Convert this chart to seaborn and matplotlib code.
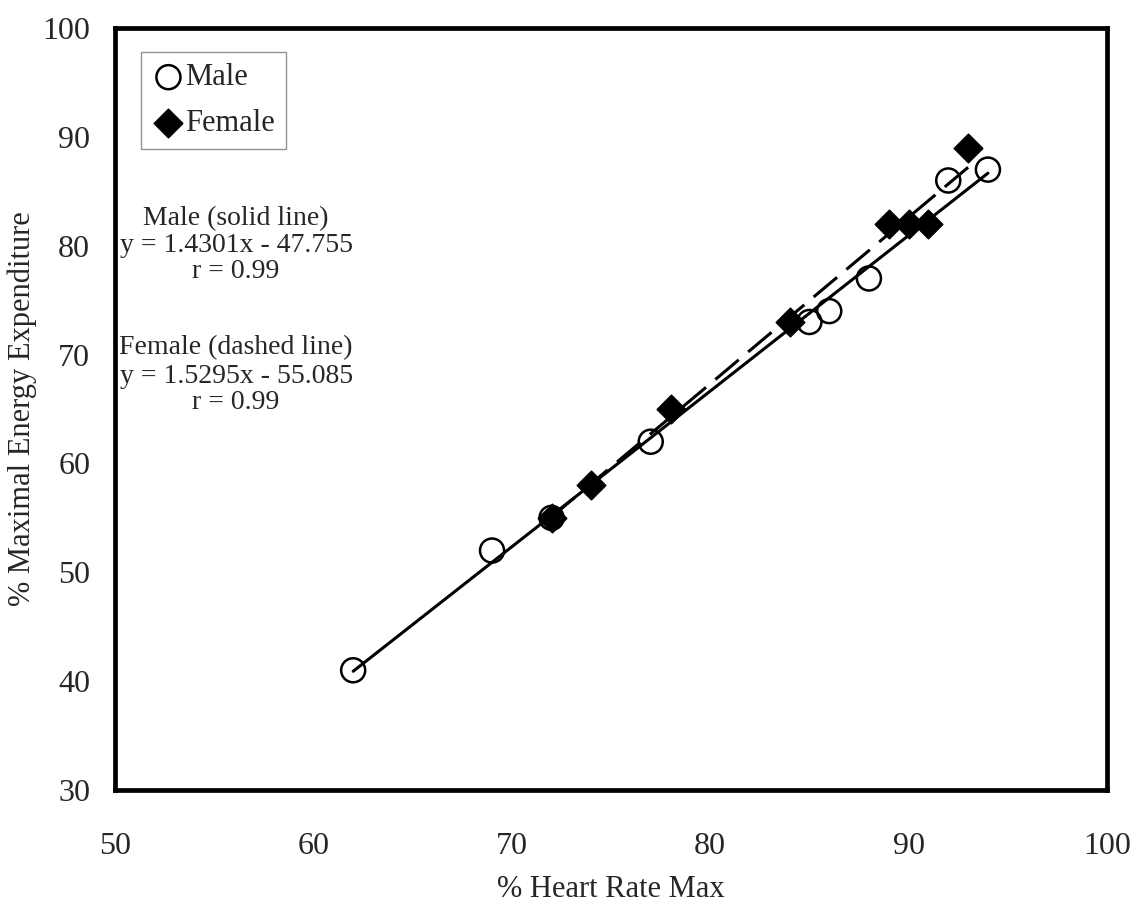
import matplotlib
matplotlib.use('Agg')
import matplotlib.pyplot as plt
import seaborn as sns
import pandas as pd

# values
male_hr = [62, 69, 72, 77, 85, 86, 88, 92, 94]
male_ee = [41, 52, 55, 62, 73, 74, 77, 86, 87]
female_hr = [72, 74, 78, 84, 89, 90, 91, 93]
female_ee = [55, 58, 65, 73, 82, 82, 82, 89]

male_df = pd.DataFrame({"hr": male_hr, "ee": male_ee})
female_df = pd.DataFrame({"hr": female_hr, "ee": female_ee})

x_ticks = [50, 60, 70, 80, 90, 100]
y_ticks = [30, 40, 50, 60, 70, 80, 90, 100]

sns.set_style("white")
plt.rcParams['font.family'] = ['Liberation Serif', 'DejaVu Serif']

fig = plt.figure(figsize=(11.4, 9.07), dpi=100)
ax = fig.add_axes([0.101, 0.129, 0.870, 0.840])

# fitted lines
sns.regplot(data=male_df, x="hr", y="ee", ci=None, scatter=False, truncate=True,
            line_kws={"color": "black", "lw": 2.2}, ax=ax)
sns.regplot(data=female_df, x="hr", y="ee", ci=None, scatter=False, truncate=True,
            line_kws={"color": "black", "lw": 2.2, "linestyle": (0, (10, 4))}, ax=ax)

# points
sns.scatterplot(data=male_df, x="hr", y="ee", marker="o", s=300, facecolor="none",
                edgecolor="black", linewidth=1.8, label="Male", ax=ax, zorder=3)
sns.scatterplot(data=female_df, x="hr", y="ee", marker="D", s=210, color="black",
                edgecolor="black", label="Female", ax=ax, zorder=4)

ax.set_xlim(50, 100)
ax.set_ylim(30, 100)
ax.set_xticks(x_ticks)
ax.set_yticks(y_ticks)
ax.tick_params(axis="both", labelsize=23, direction="out", length=6, width=1,
               color="#999999", pad=12)
ax.tick_params(axis="x", pad=24)
ax.set_xlabel("% Heart Rate Max", fontsize=22, labelpad=10)
ax.set_ylabel("% Maximal Energy Expenditure", fontsize=22)
ax.yaxis.set_label_coords(-0.079, 0.5)

for sp in ax.spines.values():
    sp.set_visible(True)
    sp.set_color("black")
    sp.set_linewidth(3.4)

leg = ax.legend(loc="upper left", bbox_to_anchor=(0.026, 0.968), fontsize=22,
                frameon=True, fancybox=False, edgecolor="#777777",
                handletextpad=0.0, handlelength=1.1, borderpad=0.35,
                labelspacing=0.55, borderaxespad=0)
leg.get_frame().set_linewidth(1.0)

# regression annotations
notes = [
    (82.5, "Male (solid line)"),
    (80.0, "y = 1.4301x - 47.755"),
    (77.6, "r = 0.99"),
    (70.6, "Female (dashed line)"),
    (68.0, "y = 1.5295x - 55.085"),
    (65.6, "r = 0.99"),
]
for yv, txt in notes:
    ax.text(56.1, yv, txt, ha="center", va="center", fontsize=20)

plt.savefig("out.png", dpi=100)
plt.close()
